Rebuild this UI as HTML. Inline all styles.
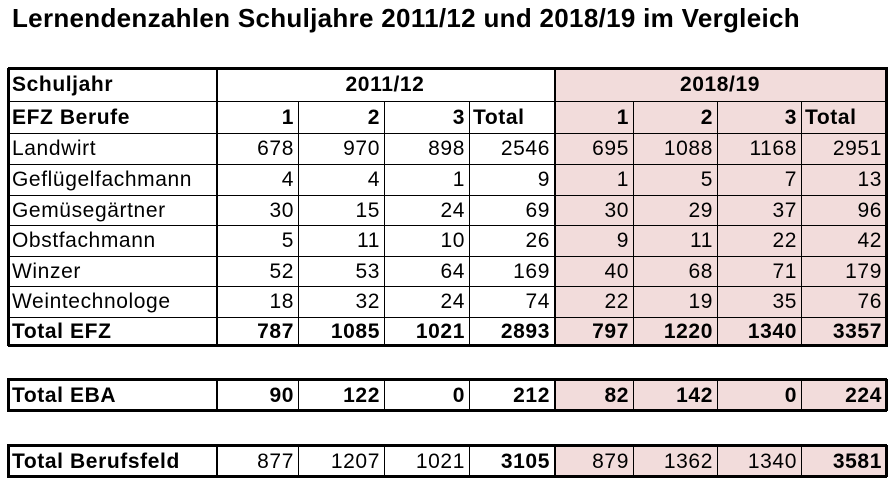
<!DOCTYPE html>
<html><head><meta charset="utf-8">
<style>
body{margin:0;width:890px;height:481px;background:#fff;position:relative;overflow:hidden;font-family:"Liberation Sans",sans-serif;}
#title{position:absolute;left:12px;top:3px;font-size:26px;font-weight:bold;white-space:nowrap;letter-spacing:0.3px;}
.c{position:absolute;box-sizing:border-box;font-size:21px;letter-spacing:0.6px;line-height:1;display:flex;align-items:center;white-space:nowrap;overflow:visible;}
.r{justify-content:flex-end;padding-right:4px;}
.l{justify-content:flex-start;padding-left:4px;}
.m{justify-content:center;}
.b{font-weight:bold;}
.ln{position:absolute;background:#000;}
</style></head><body>
<div id="title">Lernendenzahlen Schuljahre 2011/12 und 2018/19 im Vergleich</div>
<div id="root"></div>
<script>
const colX=[8,216,298,384,469,554,633,717,801,886];
const professions=["Landwirt","Geflügelfachmann","Gemüsegärtner","Obstfachmann","Winzer","Weintechnologe"];
const values2011=[[678,970,898,2546],[4,4,1,9],[30,15,24,69],[5,11,10,26],[52,53,64,169],[18,32,24,74]];
const values2018=[[695,1088,1168,2951],[1,5,7,13],[30,29,37,96],[9,11,22,42],[40,68,71,179],[22,19,35,76]];
const totalEFZ=[787,1085,1021,2893,797,1220,1340,3357];
const totalEBA=[90,122,0,212,82,142,0,224];
const totalBF=[877,1207,1021,3105,879,1362,1340,3581];
const root=document.getElementById('root');
const PINK='#f2dcdb';
function cell(x1,x2,y1,y2,text,cls,bg,name){
  const d=document.createElement('div');
  d.className='c '+cls;
  d.style.left=x1+'px';d.style.top=y1+'px';d.style.width=(x2-x1)+'px';d.style.height=(y2-y1)+'px';
  if(bg)d.style.background=bg;
  d.textContent=text;
  
  
  root.appendChild(d);
}
function line(x,y,w,h){
  const d=document.createElement('div');
  d.className='ln';
  d.style.left=x+'px';d.style.top=y+'px';d.style.width=w+'px';d.style.height=h+'px';
  
  
  root.appendChild(d);
}
const rowY=[68,101,133,164,195,225,256,286,317,346];
cell(colX[0],colX[1],rowY[0],rowY[1],'Schuljahr','l b',null,'header-schuljahr');
cell(colX[1],colX[5],rowY[0],rowY[1],'2011/12','m b',null,'header-2011');
cell(colX[5],colX[9],rowY[0],rowY[1],'2018/19','m b',PINK,'header-2018');
const sub=['1','2','3','Total','1','2','3','Total'];
cell(colX[0],colX[1],rowY[1],rowY[2],'EFZ Berufe','l b',null,'header-efz-berufe');
for(let i=0;i<8;i++){
  cell(colX[i+1],colX[i+2],rowY[1],rowY[2],sub[i],(sub[i]==='Total'?'l':'r')+' b',i>=4?PINK:null,'header-year-'+sub[i].toLowerCase());
}
for(let r=0;r<professions.length;r++){
  const y1=rowY[r+2],y2=rowY[r+3];
  cell(colX[0],colX[1],y1,y2,professions[r],'l',null,'row-label');
  const vals=values2011[r].concat(values2018[r]);
  for(let i=0;i<8;i++) cell(colX[i+1],colX[i+2],y1,y2,String(vals[i]),'r',i>=4?PINK:null,'value-cell');
}
cell(colX[0],colX[1],rowY[8],rowY[9],'Total EFZ','l b',null,'row-label-total-efz');
for(let i=0;i<8;i++) cell(colX[i+1],colX[i+2],rowY[8],rowY[9],String(totalEFZ[i]),'r b',i>=4?PINK:null,'total-efz-cell');
for(let k=1;k<rowY.length-1;k++) line(colX[0],rowY[k],colX[9]-colX[0],1);
line(colX[0],rowY[0]-1,colX[9]-colX[0]+2,3);
line(colX[0],rowY[9]-2,colX[9]-colX[0]+2,3);
line(colX[0]-1,rowY[0],3,rowY[9]-rowY[0]);
line(colX[9]-1,rowY[0],3,rowY[9]-rowY[0]);
line(colX[1],rowY[0],2,rowY[9]-rowY[0]);
line(colX[5],rowY[0],2,rowY[9]-rowY[0]);
for(const k of [2,3,4,6,7,8]) line(colX[k],rowY[1],1,rowY[9]-rowY[1]);
function single(y1,y2,label,vals,boldVals,name){
  cell(colX[0],colX[1],y1,y2,label,'l b',null,name+'-label');
  for(let i=0;i<8;i++){
    const b=boldVals==='all'||(boldVals==='totals'&&(i===3||i===7));
    cell(colX[i+1],colX[i+2],y1,y2,String(vals[i]),'r'+(b?' b':''),i>=4?PINK:null,name+'-cell');
  }
  line(colX[0]-1,y1-1,colX[9]-colX[0]+2,3);
  line(colX[0]-1,y2-2,colX[9]-colX[0]+2,3);
  line(colX[0]-1,y1,3,y2-y1);
  line(colX[9]-1,y1,3,y2-y1);
  line(colX[1],y1,2,y2-y1);line(colX[5],y1,2,y2-y1);
  for(const k of [2,3,4,6,7,8]) line(colX[k],y1,1,y2-y1);
}
single(379,411,'Total EBA',totalEBA,'all','total-eba');
single(445,477,'Total Berufsfeld',totalBF,'totals','total-berufsfeld');
line(887,458,1,18);
</script>
</body></html>
